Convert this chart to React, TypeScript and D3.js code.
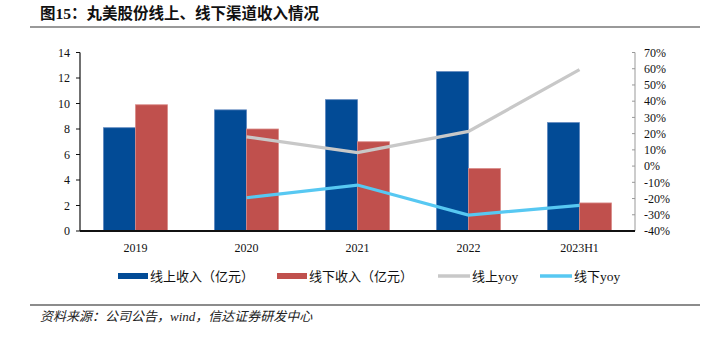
import React from "react";
import * as d3 from "d3";

const categories = ["2019", "2020", "2021", "2022", "2023H1"];
const onlineRevenue = [8.1, 9.5, 10.3, 12.5, 8.5];
const offlineRevenue = [9.9, 8.0, 7.0, 4.9, 2.2];
const onlineYoy: (number | null)[] = [null, 18, 8.3, 21.4, 59.4];
const offlineYoy: (number | null)[] = [null, -19.5, -11.7, -30.2, -24.2];
const leftTicks = [0, 2, 4, 6, 8, 10, 12, 14];
const rightTicks = [-40, -30, -20, -10, 0, 10, 20, 30, 40, 50, 60, 70];

const W = 711, H = 338;
const L = 80, R = 635, T = 52.5, B = 231;

export default function App() {
  const x = d3.scaleBand().domain(categories).range([L, R]).paddingInner(0).paddingOuter(0);
  const y = d3.scaleLinear().domain([0, 14]).range([B, T]);
  const y2 = d3.scaleLinear().domain([-40, 70]).range([B, T]);
  const bw = 32;
  const cx = (c: string) => (x(c) as number) + x.bandwidth() / 2;
  const line = d3
    .line<[string, number | null]>()
    .defined((d) => d[1] !== null)
    .x((d) => cx(d[0]))
    .y((d) => y2(d[1] as number));
  const serif = "'Liberation Serif', 'Times New Roman', serif";
  const cjk = "'Noto Sans CJK SC', sans-serif";
  const legend = [
    { type: "rect", color: "#024B96", label: "线上收入（亿元）", x: 118 },
    { type: "rect", color: "#C0504D", label: "线下收入（亿元）", x: 277 },
    { type: "line", color: "#C8C8C8", label: "线上yoy", x: 438 },
    { type: "line", color: "#57C8F2", label: "线下yoy", x: 540 },
  ];
  return (
    <svg width={W} height={H} style={{ position: "absolute", left: 0, top: 0, background: "#fff" }}>
      <text x={40} y={19} fontFamily={cjk} fontWeight="bold" fontSize={15.5} fill="#111">
        图<tspan fontFamily={serif}>15</tspan>：丸美股份线上、线下渠道收入情况
      </text>
      <line x1={30} x2={700} y1={27} y2={27} stroke="#777" strokeWidth={1.5} />

      {categories.map((c, i) => (
        <g key={c}>
          <rect x={cx(c) - bw} y={y(onlineRevenue[i])} width={bw} height={B - y(onlineRevenue[i])}
            fill="#024B96" stroke="#5b85bd" strokeWidth={0.8} />
          <rect x={cx(c)} y={y(offlineRevenue[i])} width={bw} height={B - y(offlineRevenue[i])}
            fill="#C0504D" stroke="#d98a88" strokeWidth={0.8} />
        </g>
      ))}

      <path d={line(categories.map((c, i) => [c, onlineYoy[i]]) as any) || ""} fill="none" stroke="#C8C8C8" strokeWidth={3.2} />
      <path d={line(categories.map((c, i) => [c, offlineYoy[i]]) as any) || ""} fill="none" stroke="#57C8F2" strokeWidth={3.2} />

      {/* left axis */}
      <line x1={L} x2={L} y1={T} y2={B} stroke="#111" strokeWidth={1.2} />
      {leftTicks.map((t) => (
        <g key={t}>
          <line x1={L - 4} x2={L} y1={y(t)} y2={y(t)} stroke="#111" />
          <text x={L - 10} y={y(t)} dy="0.35em" textAnchor="end" fontFamily={serif} fontSize={12} fill="#111">{t}</text>
        </g>
      ))}
      {/* right axis */}
      <line x1={R} x2={R} y1={T} y2={B} stroke="#999" strokeWidth={1} />
      {rightTicks.map((t) => (
        <g key={t}>
          <line x1={R - 3} x2={R} y1={y2(t)} y2={y2(t)} stroke="#999" />
          <text x={R + 9} y={y2(t)} dy="0.35em" textAnchor="start" fontFamily={serif} fontSize={12} fill="#111">{t}%</text>
        </g>
      ))}
      {/* x axis */}
      <line x1={L} x2={R} y1={B} y2={B} stroke="#111" strokeWidth={2} />
      {categories.map((c) => (
        <text key={c} x={cx(c)} y={248} dy="0.35em" textAnchor="middle" fontFamily={serif} fontSize={12} fill="#111">{c}</text>
      ))}

      {legend.map((l) => (
        <g key={l.label}>
          {l.type === "rect" ? (
            <rect x={l.x} y={273} width={30} height={6} fill={l.color} />
          ) : (
            <line x1={l.x} x2={l.x + 32} y1={276} y2={276} stroke={l.color} strokeWidth={3.5} />
          )}
          <text x={l.x + (l.type === "rect" ? 32 : 34)} y={276} dy="0.35em" fontFamily={cjk} fontSize={13} fill="#111">
            {l.label.replace(/yoy/, "")}
            {l.label.includes("yoy") ? <tspan fontFamily={serif} fontSize={13.5}>yoy</tspan> : null}
          </text>
        </g>
      ))}

      <line x1={30} x2={700} y1={305} y2={305} stroke="#666" strokeWidth={1.5} />
      <text x={40} y={316} dy="0.35em" fontFamily={cjk} fontStyle="italic" fontSize={13} fill="#222">
        资料来源：公司公告，<tspan fontFamily={serif}>wind</tspan>，信达证券研发中心
      </text>
    </svg>
  );
}
